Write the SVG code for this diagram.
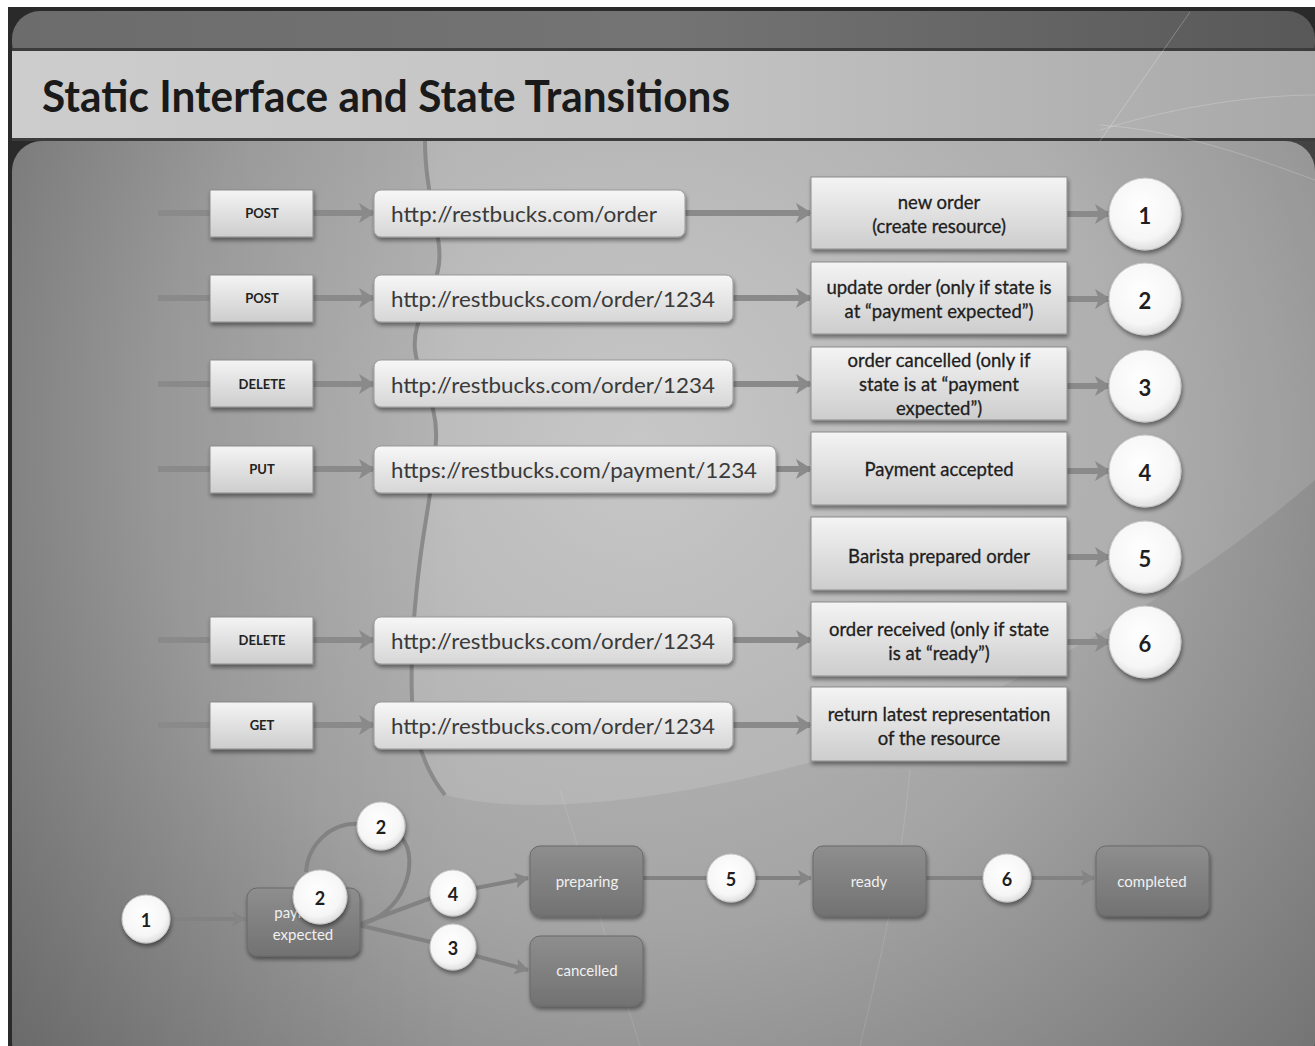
<svg xmlns="http://www.w3.org/2000/svg" width="1315" height="1046" viewBox="0 0 1315 1046">
<defs>
  <radialGradient id="bgMain" cx="640" cy="440" r="980" gradientUnits="userSpaceOnUse">
    <stop offset="0" stop-color="#c0c0c0"/>
    <stop offset="0.5" stop-color="#a4a4a4"/>
    <stop offset="1" stop-color="#6c6c6c"/>
  </radialGradient>
  <linearGradient id="leftShade" x1="0" y1="0" x2="1" y2="0">
    <stop offset="0" stop-color="#000000" stop-opacity="0.12"/>
    <stop offset="0.35" stop-color="#000000" stop-opacity="0"/>
  </linearGradient>
  <linearGradient id="topBand" x1="0" y1="0" x2="1" y2="0">
    <stop offset="0" stop-color="#6c6c6c"/>
    <stop offset="0.5" stop-color="#747474"/>
    <stop offset="1" stop-color="#585858"/>
  </linearGradient>
  <linearGradient id="titleBand" x1="0" y1="0" x2="1" y2="0">
    <stop offset="0" stop-color="#cdcdcd"/>
    <stop offset="0.5" stop-color="#c4c4c4"/>
    <stop offset="1" stop-color="#a8a8a8"/>
  </linearGradient>
  <linearGradient id="lightBox" x1="0" y1="0" x2="0" y2="1">
    <stop offset="0" stop-color="#f4f4f4"/>
    <stop offset="1" stop-color="#cdcdcd"/>
  </linearGradient>
  <linearGradient id="urlBox" x1="0" y1="0" x2="0" y2="1">
    <stop offset="0" stop-color="#f7f7f7"/>
    <stop offset="1" stop-color="#d6d6d6"/>
  </linearGradient>
  <linearGradient id="stateBox" x1="0" y1="0" x2="0" y2="1">
    <stop offset="0" stop-color="#8e8e8e"/>
    <stop offset="1" stop-color="#727272"/>
  </linearGradient>
  <radialGradient id="circ" cx="0.45" cy="0.4" r="0.65">
    <stop offset="0" stop-color="#ffffff"/>
    <stop offset="0.7" stop-color="#f6f6f6"/>
    <stop offset="1" stop-color="#d8d8d8"/>
  </radialGradient>
  <filter id="shadow" x="-20%" y="-20%" width="140%" height="150%">
    <feGaussianBlur in="SourceAlpha" stdDeviation="2"/>
    <feOffset dx="1" dy="3" result="o"/>
    <feComponentTransfer><feFuncA type="linear" slope="0.45"/></feComponentTransfer>
    <feMerge><feMergeNode/><feMergeNode in="SourceGraphic"/></feMerge>
  </filter>
  <marker id="arr" viewBox="0 0 16 20" refX="14" refY="10" markerWidth="16" markerHeight="20" markerUnits="userSpaceOnUse" orient="auto">
    <path d="M0,0 L16,10 L0,20 L4,10 Z" fill="#8a8a8a"/>
  </marker>
  <marker id="arrS" viewBox="0 0 14 16" refX="13" refY="8" markerWidth="14" markerHeight="16" markerUnits="userSpaceOnUse" orient="auto">
    <path d="M0,0 L14,8 L0,16 L3,8 Z" fill="#858585"/>
  </marker>
  <style>
    .conn { stroke:#8a8a8a; stroke-width:6; fill:none; }
    .connS { stroke:#828282; stroke-width:4; fill:none; }
    .meth { fill:url(#lightBox); stroke:#8c8c8c; stroke-width:1; filter:url(#shadow); }
    .mtxt { font-family:"Lato","Liberation Sans",sans-serif; font-weight:bold; font-size:13px; fill:#222; text-anchor:middle; dominant-baseline:central; }
    .url { fill:url(#urlBox); stroke:#9a9a9a; stroke-width:1; filter:url(#shadow); }
    .utxt { font-family:"Lato","Liberation Sans",sans-serif; font-size:22px; fill:#3a3a3a; dominant-baseline:central; }
    .desc { fill:url(#lightBox); stroke:#8c8c8c; stroke-width:1; filter:url(#shadow); }
    .dtxt { font-family:"Lato","Liberation Sans",sans-serif; font-size:18.5px; fill:#1e1e1e; stroke:#1e1e1e; stroke-width:0.3; text-anchor:middle; dominant-baseline:central; }
    .circ { fill:url(#circ); stroke:#c8c8c8; stroke-width:1; filter:url(#shadow); }
    .ctxt { font-family:"Lato","Liberation Sans",sans-serif; font-weight:bold; font-size:22px; fill:#1e1e1e; text-anchor:middle; dominant-baseline:central; }
    .cstxt { font-family:"Lato","Liberation Sans",sans-serif; font-weight:bold; font-size:18px; fill:#1e1e1e; text-anchor:middle; dominant-baseline:central; }
    .state { fill:url(#stateBox); stroke:#6a6a6a; stroke-width:1; filter:url(#shadow); }
    .stxt { font-family:"Lato","Liberation Sans",sans-serif; font-size:15px; fill:#f0f0f0; text-anchor:middle; dominant-baseline:central; }
  </style>
</defs>

<!-- slide background -->
<rect x="0" y="0" width="1315" height="1046" fill="#ffffff"/>
<rect x="8" y="7" width="1307" height="1039" fill="#2a2a2a"/>
<rect x="12" y="11" width="1303" height="60" rx="28" fill="url(#topBand)"/>
<rect x="12" y="48" width="1303" height="93" fill="#3c3c3c"/>
<rect x="12" y="51" width="1303" height="87" fill="url(#titleBand)"/>
<rect x="12" y="141" width="1303" height="930" rx="30" fill="url(#bgMain)"/>
<rect x="12" y="141" width="1303" height="930" rx="30" fill="url(#leftShade)"/>
<!-- lighter sweep right of the wavy line -->
<path d="M425,141 C425,200 445,240 438,270 C432,300 412,320 415,350 C418,380 438,400 436,440 C434,480 425,520 420,560 C415,600 410,650 412,700 C414,740 425,770 445,795 C520,815 650,805 800,765 C1000,710 1200,580 1315,480 L1315,141 Z" fill="#ffffff" opacity="0.12"/>
<path d="M425,141 C425,200 445,240 438,270 C432,300 412,320 415,350 C418,380 438,400 436,440 C434,480 425,520 420,560 C415,600 410,650 412,700 C414,740 425,770 445,795" fill="none" stroke="#8a8a8a" stroke-width="4"/>
<!-- faint decorative lines -->
<path d="M1190,12 L1100,141" stroke="#ffffff" stroke-width="1" opacity="0.25" fill="none"/>
<path d="M1100,130 C1180,105 1260,95 1315,95" stroke="#ffffff" stroke-width="1" opacity="0.2" fill="none"/>
<path d="M1100,125 C1180,130 1260,160 1315,180" stroke="#ffffff" stroke-width="1" opacity="0.2" fill="none"/>
<path d="M560,790 L640,1046" stroke="#ffffff" stroke-width="1" opacity="0.12" fill="none"/>
<path d="M910,770 C900,880 880,960 860,1046" stroke="#ffffff" stroke-width="1" opacity="0.12" fill="none"/>

<text x="42" y="112" font-family="Lato, 'Open Sans', sans-serif" font-weight="bold" font-size="44" fill="#1a1a1a" textLength="688" lengthAdjust="spacingAndGlyphs">Static Interface and State Transitions</text>

<!-- connectors -->
<g id="connectors">
  <line class="conn" x1="158" y1="213" x2="210" y2="213"/>
  <line class="conn" x1="158" y1="298" x2="210" y2="298"/>
  <line class="conn" x1="158" y1="384" x2="210" y2="384"/>
  <line class="conn" x1="158" y1="469" x2="210" y2="469"/>
  <line class="conn" x1="158" y1="640" x2="210" y2="640"/>
  <line class="conn" x1="158" y1="725" x2="210" y2="725"/>
  <line class="conn" x1="313" y1="213" x2="373" y2="213" marker-end="url(#arr)"/>
  <line class="conn" x1="313" y1="298" x2="373" y2="298" marker-end="url(#arr)"/>
  <line class="conn" x1="313" y1="384" x2="373" y2="384" marker-end="url(#arr)"/>
  <line class="conn" x1="313" y1="469" x2="373" y2="469" marker-end="url(#arr)"/>
  <line class="conn" x1="313" y1="640" x2="373" y2="640" marker-end="url(#arr)"/>
  <line class="conn" x1="313" y1="725" x2="373" y2="725" marker-end="url(#arr)"/>
  <line class="conn" x1="685" y1="213" x2="810" y2="213" marker-end="url(#arr)"/>
  <line class="conn" x1="733" y1="298" x2="810" y2="298" marker-end="url(#arr)"/>
  <line class="conn" x1="733" y1="384" x2="810" y2="384" marker-end="url(#arr)"/>
  <line class="conn" x1="776" y1="469" x2="810" y2="469" marker-end="url(#arr)"/>
  <line class="conn" x1="733" y1="640" x2="810" y2="640" marker-end="url(#arr)"/>
  <line class="conn" x1="733" y1="725" x2="810" y2="725" marker-end="url(#arr)"/>
  <line class="conn" x1="1067" y1="214" x2="1109" y2="214" marker-end="url(#arr)"/>
  <line class="conn" x1="1067" y1="299" x2="1109" y2="299" marker-end="url(#arr)"/>
  <line class="conn" x1="1067" y1="386" x2="1109" y2="386" marker-end="url(#arr)"/>
  <line class="conn" x1="1067" y1="471" x2="1109" y2="471" marker-end="url(#arr)"/>
  <line class="conn" x1="1067" y1="557" x2="1109" y2="557" marker-end="url(#arr)"/>
  <line class="conn" x1="1067" y1="642" x2="1109" y2="642" marker-end="url(#arr)"/>
  <line class="connS" x1="170" y1="919" x2="245" y2="919" stroke-width="3" marker-end="url(#arrS)"/>
  <path class="connS" d="M358,925 C405,915 420,860 402,838"/>
  <path class="connS" d="M360,824 C330,822 308,845 306,872"/>
  <line class="connS" x1="358" y1="925" x2="431" y2="898"/>
  <line class="connS" x1="476" y1="888" x2="528" y2="878" marker-end="url(#arrS)"/>
  <line class="connS" x1="358" y1="925" x2="431" y2="942"/>
  <line class="connS" x1="476" y1="956" x2="528" y2="970" marker-end="url(#arrS)"/>
  <line class="connS" x1="643" y1="878" x2="707" y2="878"/>
  <line class="connS" x1="755" y1="878" x2="811" y2="878" marker-end="url(#arrS)"/>
  <line class="connS" x1="926" y1="878" x2="983" y2="878"/>
  <line class="connS" x1="1031" y1="878" x2="1094" y2="878" marker-end="url(#arrS)"/>
</g>

<!-- methods -->
<g id="m1"><rect class="meth" x="210" y="190" width="103" height="47"/><text class="mtxt" x="262" y="213">POST</text></g>
<g id="m2"><rect class="meth" x="210" y="275" width="103" height="47"/><text class="mtxt" x="262" y="298">POST</text></g>
<g id="m3"><rect class="meth" x="210" y="360" width="103" height="47"/><text class="mtxt" x="262" y="384">DELETE</text></g>
<g id="m4"><rect class="meth" x="210" y="446" width="103" height="47"/><text class="mtxt" x="262" y="469">PUT</text></g>
<g id="m6"><rect class="meth" x="210" y="617" width="103" height="47"/><text class="mtxt" x="262" y="640">DELETE</text></g>
<g id="m7"><rect class="meth" x="210" y="702" width="103" height="47"/><text class="mtxt" x="262" y="725">GET</text></g>

<!-- urls -->
<g id="u1"><rect class="url" x="374" y="190" width="311" height="47" rx="7"/><text class="utxt" x="391" y="213" textLength="266" lengthAdjust="spacingAndGlyphs">http://restbucks.com/order</text></g>
<g id="u2"><rect class="url" x="374" y="275" width="359" height="47" rx="7"/><text class="utxt" x="391" y="298" textLength="324" lengthAdjust="spacingAndGlyphs">http://restbucks.com/order/1234</text></g>
<g id="u3"><rect class="url" x="374" y="360" width="359" height="47" rx="7"/><text class="utxt" x="391" y="384" textLength="324" lengthAdjust="spacingAndGlyphs">http://restbucks.com/order/1234</text></g>
<g id="u4"><rect class="url" x="374" y="446" width="402" height="47" rx="7"/><text class="utxt" x="391" y="469" textLength="366" lengthAdjust="spacingAndGlyphs">https://restbucks.com/payment/1234</text></g>
<g id="u6"><rect class="url" x="374" y="617" width="359" height="47" rx="7"/><text class="utxt" x="391" y="640" textLength="324" lengthAdjust="spacingAndGlyphs">http://restbucks.com/order/1234</text></g>
<g id="u7"><rect class="url" x="374" y="702" width="359" height="47" rx="7"/><text class="utxt" x="391" y="725" textLength="324" lengthAdjust="spacingAndGlyphs">http://restbucks.com/order/1234</text></g>

<!-- descriptions -->
<g id="d1"><rect class="desc" x="811" y="177" width="256" height="72"/><text class="dtxt" x="939" y="202">new order</text><text class="dtxt" x="939" y="226">(create resource)</text></g>
<g id="d2"><rect class="desc" x="811" y="262" width="256" height="72"/><text class="dtxt" x="939" y="287">update order (only if state is</text><text class="dtxt" x="939" y="311">at “payment expected”)</text></g>
<g id="d3"><rect class="desc" x="811" y="347" width="256" height="73"/><text class="dtxt" x="939" y="360">order cancelled (only if</text><text class="dtxt" x="939" y="384">state is at “payment</text><text class="dtxt" x="939" y="408">expected”)</text></g>
<g id="d4"><rect class="desc" x="811" y="432" width="256" height="73"/><text class="dtxt" x="939" y="469">Payment accepted</text></g>
<g id="d5"><rect class="desc" x="811" y="517" width="256" height="73"/><text class="dtxt" x="939" y="556">Barista prepared order</text></g>
<g id="d6"><rect class="desc" x="811" y="602" width="256" height="74"/><text class="dtxt" x="939" y="629">order received (only if state</text><text class="dtxt" x="939" y="653">is at “ready”)</text></g>
<g id="d7"><rect class="desc" x="811" y="687" width="256" height="74"/><text class="dtxt" x="939" y="714">return latest representation</text><text class="dtxt" x="939" y="738">of the resource</text></g>

<!-- numbered circles -->
<g id="n1"><circle class="circ" cx="1145" cy="214" r="36"/><text class="ctxt" x="1145" y="215">1</text></g>
<g id="n2"><circle class="circ" cx="1145" cy="299" r="36"/><text class="ctxt" x="1145" y="300">2</text></g>
<g id="n3"><circle class="circ" cx="1145" cy="386" r="36"/><text class="ctxt" x="1145" y="387">3</text></g>
<g id="n4"><circle class="circ" cx="1145" cy="471" r="36"/><text class="ctxt" x="1145" y="472">4</text></g>
<g id="n5"><circle class="circ" cx="1145" cy="557" r="36"/><text class="ctxt" x="1145" y="558">5</text></g>
<g id="n6"><circle class="circ" cx="1145" cy="642" r="36"/><text class="ctxt" x="1145" y="643">6</text></g>

<!-- state diagram -->
<g id="s-payment"><rect class="state" x="247" y="888" width="113" height="68" rx="10"/><text class="stxt" x="303" y="912">payment</text><text class="stxt" x="303" y="934">expected</text></g>
<g id="s-preparing"><rect class="state" x="530" y="846" width="113" height="70" rx="10"/><text class="stxt" x="587" y="881">preparing</text></g>
<g id="s-cancelled"><rect class="state" x="530" y="936" width="113" height="70" rx="10"/><text class="stxt" x="587" y="970">cancelled</text></g>
<g id="s-ready"><rect class="state" x="813" y="846" width="113" height="70" rx="10"/><text class="stxt" x="869" y="881">ready</text></g>
<g id="s-completed"><rect class="state" x="1096" y="846" width="113" height="70" rx="10"/><text class="stxt" x="1152" y="881">completed</text></g>

<g id="t1"><circle class="circ" cx="146" cy="919" r="24"/><text class="cstxt" x="146" y="920">1</text></g>
<g id="t2a"><circle class="circ" cx="381" cy="826" r="24"/><text class="cstxt" x="381" y="827">2</text></g>
<g id="t2b"><circle class="circ" cx="320" cy="897" r="27"/><text class="cstxt" x="320" y="898">2</text></g>
<g id="t4"><circle class="circ" cx="453" cy="893" r="23"/><text class="cstxt" x="453" y="894">4</text></g>
<g id="t3"><circle class="circ" cx="453" cy="947" r="23"/><text class="cstxt" x="453" y="948">3</text></g>
<g id="t5"><circle class="circ" cx="731" cy="878" r="24"/><text class="cstxt" x="731" y="879">5</text></g>
<g id="t6"><circle class="circ" cx="1007" cy="878" r="24"/><text class="cstxt" x="1007" y="879">6</text></g>
</svg>
